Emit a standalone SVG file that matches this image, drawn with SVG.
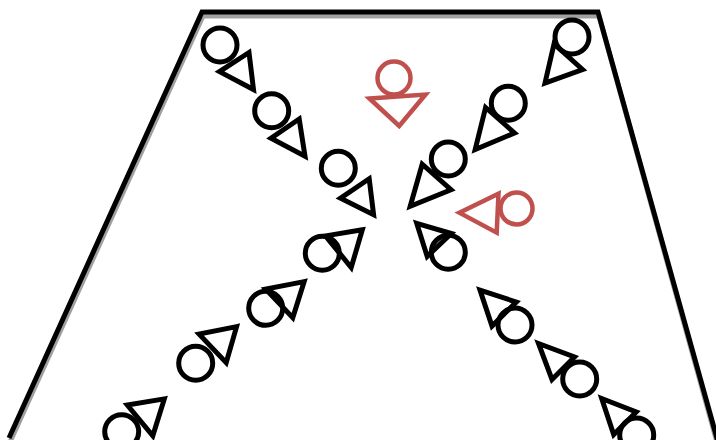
<svg xmlns="http://www.w3.org/2000/svg" width="716" height="440" viewBox="0 0 716 440">
<style>
.fig{fill:none;stroke:#000;stroke-width:5;stroke-linejoin:miter}
.red{fill:none;stroke:#c0504d;stroke-width:4.5;stroke-linejoin:miter}
.wall{fill:none;stroke:#000;stroke-width:5;stroke-linejoin:miter}
.shadow{fill:none;stroke:#a0a0a0;stroke-width:5;stroke-linejoin:miter}
</style>
<rect width="716" height="440" fill="#fff"/>
<g id="room">
<polyline class="shadow" points="10,442 203,16 599,16 718,446"/>
<polyline class="wall" points="9,438 202,12 598,12 718,442"/>
</g>
<g id="a1" class="fig"><circle cx="220" cy="45" r="17"/><polygon points="249,52.5 219.5,71.6 253.5,89.5"/></g>
<g id="a2" class="fig"><circle cx="271.7" cy="110.8" r="17"/><polygon points="299.2,119 271,138.2 305,156.2"/></g>
<g id="a3" class="fig"><circle cx="338.3" cy="168.3" r="17"/><polygon points="369.2,178.8 340.5,198.2 373.6,214.8"/></g>
<g id="b1" class="fig"><circle cx="572" cy="37" r="17"/><polygon points="554,44 545,83 582.5,69.5"/></g>
<g id="b2" class="fig"><circle cx="508.3" cy="103.3" r="17"/><polygon points="485.6,107.5 475.2,149.5 514.5,133"/></g>
<g id="b3" class="fig"><circle cx="448.3" cy="159" r="17"/><polygon points="422.2,164.2 410.2,206.2 451,189.7"/></g>
<g id="c1" class="fig"><circle cx="322.3" cy="253.3" r="17"/><polygon points="362.3,229.8 325.5,235.9 351.2,267.5"/></g>
<g id="c2" class="fig"><circle cx="265.7" cy="308.3" r="17"/><polygon points="304.2,281.6 265.7,289.1 292.8,317.6"/></g>
<g id="c3" class="fig"><circle cx="195.7" cy="363.3" r="17"/><polygon points="236.6,326.6 199.1,334.1 226.2,362.6"/></g>
<g id="c4" class="fig"><circle cx="121.7" cy="431.7" r="17"/><polygon points="164.3,398.9 127.3,405 152.8,435.8"/></g>
<g id="d1" class="fig"><circle cx="448.3" cy="252.3" r="17"/><polygon points="416.7,223.3 451.3,233.5 427.2,256.4"/></g>
<g id="d2" class="fig"><circle cx="515" cy="325" r="17"/><polygon points="480,290.1 516.3,302 492,326.1"/></g>
<g id="d3" class="fig"><circle cx="579.7" cy="379" r="17"/><polygon points="538.5,343.5 574.5,357 552,379.5"/></g>
<g id="d4" class="fig"><circle cx="636.7" cy="435" r="17"/><polygon points="601.7,398.5 636.2,411.9 613.7,434.5"/></g>
<g id="r1" class="red"><circle cx="394" cy="78" r="16.5"/><polygon points="369.5,98.5 425.5,94.5 399.2,126"/></g>
<g id="r2" class="red"><circle cx="516.5" cy="208.5" r="16"/><polygon points="459.3,212.7 498.5,193.7 496.7,232.7"/></g>
</svg>
